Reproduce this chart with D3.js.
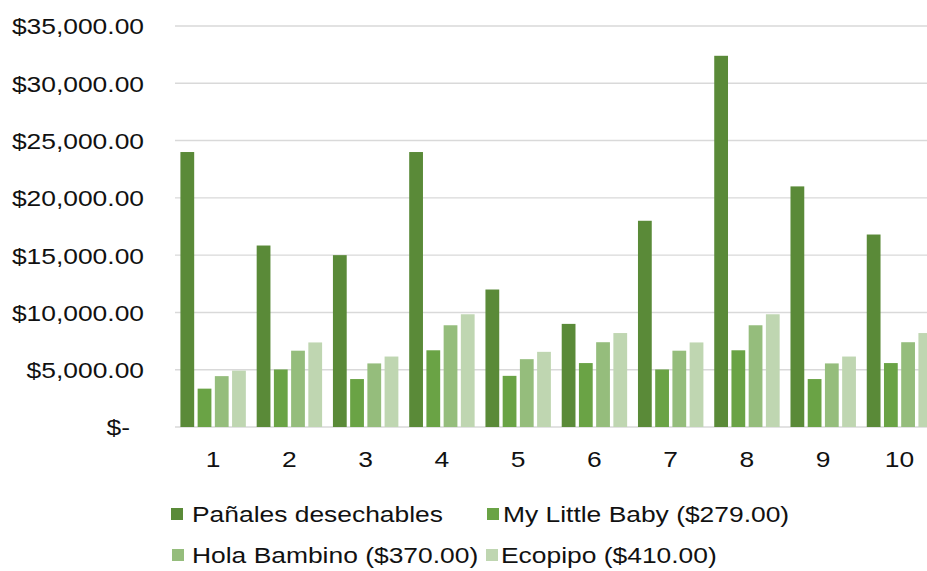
<!DOCTYPE html>
<html>
<head>
<meta charset="utf-8">
<script src="https://cdn.jsdelivr.net/npm/d3@7"></script>
<style>
  html, body { margin: 0; padding: 0; background: #fff; overflow: hidden; }
  svg text { font-family: "Liberation Sans", Arial, sans-serif; fill: #111; }
</style>
</head>
<body>
<svg id="chart" width="927" height="571"></svg>
<script>
const categories = ["1", "2", "3", "4", "5", "6", "7", "8", "9", "10"];
const seriesNames = ["Pañales desechables", "My Little Baby ($279.00)", "Hola Bambino ($370.00)", "Ecopipo ($410.00)"];
const panales = [24000, 15840, 15000, 24000, 12000, 9000, 18000, 32400, 21000, 16800];
const myLittleBaby = [3348, 5022, 4185, 6696, 4464, 5580, 5022, 6696, 4185, 5580];
const holaBambino = [4440, 6660, 5550, 8880, 5920, 7400, 6660, 8880, 5550, 7400];
const ecopipo = [4920, 7380, 6150, 9840, 6560, 8200, 7380, 9840, 6150, 8200];
const tickValues = [0, 5000, 10000, 15000, 20000, 25000, 30000, 35000];
const tickLabels = ["$-", "$5,000.00", "$10,000.00", "$15,000.00", "$20,000.00", "$25,000.00", "$30,000.00", "$35,000.00"];
const colors = ["#5a8a38", "#6aa345", "#95bd7c", "#bfd6b1"];

const allSeries = [panales, myLittleBaby, holaBambino, ecopipo];
const svg = d3.select("#chart");

const plotLeft = 175, plotRight = 937.6, plotTop = 26, plotBottom = 427;

const x0 = d3.scaleBand().domain(categories).range([plotLeft, plotRight])
  .paddingInner(0.142).paddingOuter(0.071);
const x1 = d3.scaleBand().domain(d3.range(seriesNames.length)).range([0, x0.bandwidth()])
  .paddingInner(0.2).paddingOuter(0);
const y = d3.scaleLinear().domain([0, 35000]).range([plotBottom, plotTop]);

// gridlines
svg.append("g").selectAll("line").data(tickValues).join("line")
  .attr("x1", plotLeft).attr("x2", 940)
  .attr("y1", d => y(d)).attr("y2", d => y(d))
  .attr("stroke", "#d9d9d9").attr("stroke-width", 1.4);

// bars
const groups = svg.append("g").selectAll("g").data(categories).join("g")
  .attr("transform", c => `translate(${x0(c)},0)`);
groups.selectAll("rect")
  .data((c, i) => allSeries.map((s, k) => ({ k, v: s[i] })))
  .join("rect")
  .attr("x", d => x1(d.k))
  .attr("width", x1.bandwidth())
  .attr("y", d => y(d.v))
  .attr("height", d => y(0) - y(d.v))
  .attr("fill", d => colors[d.k]);

// y axis
const yAxis = d3.axisLeft(y).tickValues(tickValues)
  .tickFormat((d, i) => tickLabels[i]).tickSize(0).tickPadding(0);
const yg = svg.append("g").attr("transform", "translate(144,0)").call(yAxis);
yg.select(".domain").remove();
yg.selectAll("text").attr("font-size", 22).attr("dy", "0.36em")
  .attr("x", d => d === 0 ? -14 : 0);

// x axis
const xAxis = d3.axisBottom(x0).tickSize(0).tickPadding(0);
const xg = svg.append("g").attr("transform", `translate(0,${plotBottom})`).call(xAxis);
xg.select(".domain").remove();
xg.selectAll("text").attr("font-size", 22).attr("dy", 0).attr("y", 40);

// legend
const legendPos = [
  { sx: 171, tx: 192, sy: 508, ty: 522 },
  { sx: 487, tx: 503, sy: 508, ty: 522 },
  { sx: 172, tx: 192, sy: 549, ty: 563 },
  { sx: 486, tx: 501, sy: 549, ty: 563 }
];
const leg = svg.append("g").selectAll("g").data(seriesNames).join("g");
leg.append("rect")
  .attr("x", (d, i) => legendPos[i].sx).attr("y", (d, i) => legendPos[i].sy)
  .attr("width", 12).attr("height", 12)
  .attr("fill", (d, i) => colors[i]);
leg.append("text")
  .attr("x", (d, i) => legendPos[i].tx).attr("y", (d, i) => legendPos[i].ty)
  .attr("font-size", 22)
  .text(d => d);

// horizontal stretch of text to match reference
svg.selectAll("text").each(function () {
  const w = this.getComputedTextLength();
  this.setAttribute("textLength", w * 1.2);
  this.setAttribute("lengthAdjust", "spacingAndGlyphs");
});
</script>
</body>
</html>
